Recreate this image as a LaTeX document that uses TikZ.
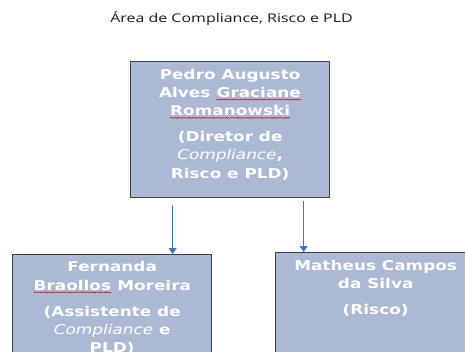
\documentclass[tikz,border=0pt]{standalone}
\usepackage{fontspec}
\usetikzlibrary{positioning,arrows.meta,decorations.pathmorphing}
\newfontfamily\titlefont[FakeStretch=1.33]{Open Sans}
\newfontfamily\boxfont[FakeStretch=1.25]{DejaVu Sans}
\definecolor{azulcaixa}{HTML}{ABB9D4}
\definecolor{borda}{HTML}{404040}
\definecolor{azulseta}{HTML}{4472C4}
% sublinhado ondulado (corretor)
\newcommand{\erro}[1]{\tikz[baseline=(palavra.base)]{\node[inner sep=0pt,anchor=base] (palavra) {#1};
  \draw[red!80!black, line width=0.4pt, decorate, decoration={snake,amplitude=0.6pt,segment length=2.4pt}]
    ([yshift=-2.2pt]palavra.base west) -- ([yshift=-2.2pt]palavra.base east);}}

\tikzset{
  caixa/.style={draw=borda, line width=1.3pt, fill=azulcaixa, anchor=north west, inner sep=0pt},
  nome/.style={text=white, align=center, inner sep=0pt,
    font=\boxfont\bfseries\fontsize{13.5}{18.3}\selectfont},
  ligacao/.style={draw=azulseta, line width=0.9pt, -{Triangle[width=8pt,length=6pt]}}
}

\begin{document}
\begin{tikzpicture}[x=1pt,y=-1pt]
\useasboundingbox (0,0) rectangle (465,351);
\fill[white] (0,0) rectangle (465,351);
\clip (0,0) rectangle (465,351);
% titulo
\node[font=\titlefont\fontsize{12}{14}\selectfont, text=black!90, anchor=base] (titulo) at (231.5,22) {Área de Compliance, Risco e PLD};
% caixas
\node[caixa, minimum width=199pt, minimum height=136pt] (diretor) at (130,61) {};
\node[caixa, minimum width=199pt, minimum height=160pt] (assistente) at (12,254) {};
\node[caixa, minimum width=200pt, minimum height=160pt] (risco) at (275,252) {};
% nomes
\node[nome, below=7.6pt of diretor.north] (diretor nome) {Pedro Augusto\\Alves \erro{Graciane}\\\erro{Romanowski}\\[7.7pt](Diretor de\\\textit{\mdseries Compliance},\\Risco e PLD)};
\node[nome, below=7.4pt of assistente.north] (assistente nome) {Fernanda\\\erro{Braollos} Moreira\\[7.7pt](Assistente de\\\textit{\mdseries Compliance} e\\PLD)};
\node[nome, below=7.7pt of risco.north] (risco nome) {Matheus Campos\\da Silva\\[7.7pt](Risco)};
% setas
\coordinate (sai1) at ([xshift=-57.5pt,yshift=-7pt]diretor.south);
\coordinate (sai2) at ([xshift=73.5pt,yshift=-3pt]diretor.south);
\draw[ligacao] (sai1) -- (sai1 |- assistente.north);
\draw[ligacao] (sai2) -- (sai2 |- risco.north);
\end{tikzpicture}
\end{document}
